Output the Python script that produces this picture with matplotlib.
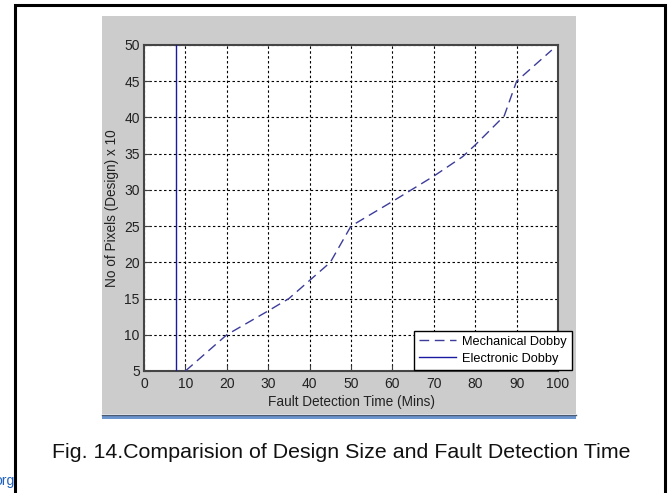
import matplotlib
matplotlib.use("Agg")
import matplotlib.pyplot as plt
from matplotlib.patches import Rectangle
from matplotlib.lines import Line2D

# ---- data ----
mech_time = [10, 20, 30, 35, 40, 45, 50, 60, 70, 77, 80, 87, 90, 98.5]
mech_pixels = [5, 10, 13.3, 15, 17.5, 20, 25, 28.4, 31.9, 34.6, 36.2, 40.2, 45, 49.3]
elec_time = [7.8, 7.8]
elec_pixels = [5, 50]
xticks = list(range(0, 101, 10))
yticks = list(range(5, 51, 5))
series_labels = ["Mechanical Dobby", "Electronic Dobby"]
xlabel = "Fault Detection Time (Mins)"
ylabel = "No of Pixels (Design) x 10"
caption = "Fig. 14.Comparision of Design Size and Fault Detection Time"

W, H = 670, 493
plt.rcParams['font.family'] = ['Liberation Sans', 'DejaVu Sans']
fig = plt.figure(figsize=(W / 100, H / 100), dpi=100)
fig.patch.set_facecolor('white')

def fx(px):
    return px / W

def fy(py):
    return 1 - py / H

# gray panel
fig.patches.append(Rectangle((fx(102), fy(414)), fx(576) - fx(102), fy(16) - fy(414),
                             transform=fig.transFigure, facecolor='#cccccc',
                             edgecolor='none', zorder=-10))
# dark line + blue bar below panel
fig.patches.append(Rectangle((fx(102), fy(419)), fx(576) - fx(102), fy(415) - fy(419),
                             transform=fig.transFigure, facecolor='#6b95cf',
                             edgecolor='none', zorder=-10))
fig.lines.append(Line2D([fx(102), fx(576)], [fy(414.5), fy(414.5)], transform=fig.transFigure,
                        color='#4a5a70', linewidth=1, zorder=-9))

# outer border
fig.lines.append(Line2D([fx(14.5), fx(14.5), fx(665), fx(665)],
                        [fy(493), fy(5), fy(5), fy(493)], transform=fig.transFigure,
                        color='black', linewidth=2.2, solid_joinstyle='miter', zorder=-9))

ax = fig.add_axes([fx(144), fy(371), fx(558) - fx(144), fy(45) - fy(371)])
ax.set_facecolor('white')
ax.set_zorder(1)

ax.plot(mech_time, mech_pixels, color='#3c3c9a', linewidth=1.0,
        dashes=(7, 4), label=series_labels[0], zorder=3)
ax.plot(elec_time, elec_pixels, color='#1a1aa0', linewidth=1.0,
        label=series_labels[1], zorder=3)

ax.set_xlim(0, 100)
ax.set_ylim(5, 50)
ax.set_xticks(xticks)
ax.set_yticks(yticks)
ax.grid(True, color='black', linestyle=(0, (2.2, 2.2)), linewidth=0.8)
ax.tick_params(direction='in', length=4, width=0.8, labelsize=10,
               colors='#404040', labelcolor='#222222')
ax.tick_params(axis='x', pad=4)
ax.tick_params(axis='y', pad=3)
for s in ax.spines.values():
    s.set_color('#454545')
    s.set_linewidth(1.5)

ax.set_xlabel(xlabel, fontsize=9.8, color='#222222', labelpad=3)
ax.set_ylabel(ylabel, fontsize=9.8, color='#222222', labelpad=4)

leg = ax.legend(loc='lower right', bbox_to_anchor=(fx(572), fy(370)),
                bbox_transform=fig.transFigure, borderaxespad=0, fancybox=False,
                framealpha=1, edgecolor='black', fontsize=9.2, handlelength=2.9,
                handletextpad=0.5, borderpad=0.4, labelspacing=0.4)
leg.get_frame().set_linewidth(1.0)
leg.set_zorder(5)

fig.text(fx(341), fy(453), caption, ha='center', va='center', fontsize=15.4, color='#111111')

# clipped link text at bottom left (cut off in the reference too)
fig.text(fx(15), fy(481), "org", ha='right', va='center', fontsize=10, color='#2060c0')

fig.savefig('out.png', dpi=100)
